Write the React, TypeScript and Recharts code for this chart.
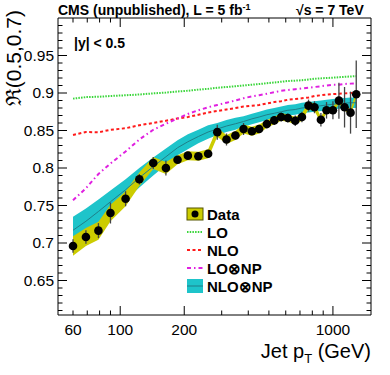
import React from 'react';
import { ComposedChart, Area, Line, Scatter, XAxis, YAxis, ErrorBar, Legend } from 'recharts';

const FONT = '"Liberation Sans", Arial, Helvetica, sans-serif';

// jet pT bin centres (GeV)
const ptBins = [60, 69, 79, 90, 106, 123, 143, 164, 186, 208, 233, 259, 286, 316, 348, 380, 416, 450, 489, 530, 571, 614, 665, 715, 768, 819, 878, 933, 1000, 1067, 1134, 1210, 1287];

// measured ratio R(0.5,0.7)
const dataR = [0.696, 0.708, 0.7165, 0.740, 0.759, 0.785, 0.8066, 0.800, 0.811, 0.8165, 0.8156, 0.819, 0.8478, 0.838, 0.8433, 0.852, 0.849, 0.852, 0.8586, 0.8635, 0.868, 0.8667, 0.863, 0.868, 0.8832, 0.881, 0.8644, 0.8769, 0.8769, 0.8898, 0.881, 0.8738, 0.8983];
const statErr = [0.009, 0.009, 0.010, 0.014, 0.010, 0.007, 0.008, 0.010, 0.005, 0.004, 0.004, 0.005, 0.010, 0.008, 0.005, 0.008, 0.005, 0.005, 0.006, 0.006, 0.006, 0.006, 0.007, 0.007, 0.008, 0.008, 0.009, 0.011, 0.012, 0.024, 0.027, 0.028, 0.045];
const sysErr = [0.013, 0.012, 0.012, 0.011, 0.010, 0.009, 0.008, 0.008, 0.006, 0.006, 0.006, 0.006, 0.006, 0.006, 0.006, 0.006, 0.006, 0.006, 0.005, 0.005, 0.005, 0.005, 0.005, 0.005, 0.005, 0.005, 0.004, 0.004, 0.004, 0.004, 0.004, 0.004, 0.004];

// theory curves
const loR = [0.8925, 0.8945, 0.895, 0.896, 0.897, 0.898, 0.8995, 0.9005, 0.902, 0.903, 0.9045, 0.9055, 0.907, 0.908, 0.909, 0.910, 0.911, 0.912, 0.913, 0.914, 0.915, 0.916, 0.9165, 0.917, 0.918, 0.919, 0.9195, 0.920, 0.9205, 0.921, 0.9215, 0.922, 0.9225];
const nloR = [0.844, 0.848, 0.8475, 0.851, 0.853, 0.857, 0.860, 0.863, 0.866, 0.868, 0.871, 0.874, 0.876, 0.878, 0.880, 0.882, 0.883, 0.884, 0.886, 0.888, 0.889, 0.891, 0.892, 0.893, 0.894, 0.896, 0.897, 0.898, 0.8985, 0.899, 0.8995, 0.900, 0.900];
const loNpR = [0.757, 0.773, 0.792, 0.806, 0.822, 0.838, 0.851, 0.859, 0.866, 0.872, 0.877, 0.881, 0.884, 0.887, 0.890, 0.893, 0.8955, 0.897, 0.899, 0.901, 0.903, 0.904, 0.905, 0.906, 0.907, 0.908, 0.909, 0.910, 0.911, 0.911, 0.912, 0.9125, 0.913];
const nloNpR = [0.717, 0.729, 0.742, 0.755, 0.771, 0.787, 0.802, 0.815, 0.827, 0.835, 0.842, 0.848, 0.852, 0.856, 0.859, 0.862, 0.8655, 0.868, 0.871, 0.873, 0.875, 0.877, 0.878, 0.880, 0.881, 0.882, 0.883, 0.884, 0.885, 0.886, 0.8865, 0.887, 0.887];
const nloNpErr = [0.018, 0.017, 0.016, 0.015, 0.014, 0.013, 0.012, 0.011, 0.010, 0.010, 0.009, 0.009, 0.008, 0.008, 0.008, 0.007, 0.007, 0.007, 0.007, 0.007, 0.007, 0.007, 0.007, 0.007, 0.007, 0.007, 0.007, 0.007, 0.007, 0.007, 0.007, 0.007, 0.007];

// axis ticks
const xTicks = [60, 70, 80, 90, 100, 200, 300, 400, 500, 600, 700, 800, 900, 1000];
const xTickLabels = ['60', '', '', '', '100', '200', '', '', '', '', '', '', '', '1000'];
const xLongTicks = [100, 200, 1000];
const yTicks = [0.61, 0.62, 0.63, 0.64, 0.65, 0.66, 0.67, 0.68, 0.69, 0.7, 0.71, 0.72, 0.73, 0.74, 0.75, 0.76, 0.77, 0.78, 0.79, 0.8, 0.81, 0.82, 0.83, 0.84, 0.85, 0.86, 0.87, 0.88, 0.89, 0.9, 0.91, 0.92, 0.93, 0.94, 0.95, 0.96, 0.97, 0.98, 0.99];
const yMajorTicks = [0.65, 0.7, 0.75, 0.8, 0.85, 0.9, 0.95];
const yMajorLabels = ['0.65', '0.7', '0.75', '0.8', '0.85', '0.9', '0.95'];

const rows = ptBins.map((pt, i) => ({
  pt,
  data: dataR[i],
  stat: statErr[i],
  sysBand: [dataR[i] - sysErr[i], dataR[i] + sysErr[i]],
  lo: loR[i],
  nlo: nloR[i],
  lonp: loNpR[i],
  nlonp: nloNpR[i],
  nlonpBand: [nloNpR[i] - nloNpErr[i], nloNpR[i] + nloNpErr[i]],
}));

const CYAN = '#1ec4ca';
const YELLOW = '#cccc00';

function BottomTick(props: any) {
  const { x, y, payload } = props;
  const i = xTicks.indexOf(payload.value);
  const len = xLongTicks.includes(payload.value) ? 9 : 4.5;
  return (
    <g>
      <line x1={x} y1={y} x2={x} y2={y - len} stroke="#000" />
      {xTickLabels[i] && (
        <text x={x} y={y + 20} textAnchor="middle" fontSize={15.5} fontFamily={FONT} fill="#000">
          {xTickLabels[i]}
        </text>
      )}
    </g>
  );
}

function TopTick(props: any) {
  const { x, y, payload } = props;
  const len = xLongTicks.includes(payload.value) ? 9 : 4.5;
  return <line x1={x} y1={y} x2={x} y2={y + len} stroke="#000" />;
}

function LeftTick(props: any) {
  const { x, y, payload } = props;
  const j = yMajorTicks.indexOf(payload.value);
  const len = j >= 0 ? 9 : 4.5;
  return (
    <g>
      <line x1={x} y1={y} x2={x + len} y2={y} stroke="#000" />
      {j >= 0 && (
        <text x={x - 4} y={y + 5} textAnchor="end" fontSize={15.5} fontFamily={FONT} fill="#000">
          {yMajorLabels[j]}
        </text>
      )}
    </g>
  );
}

function RightTick(props: any) {
  const { x, y, payload } = props;
  const len = yMajorTicks.includes(payload.value) ? 9 : 4.5;
  return <line x1={x} y1={y} x2={x - len} y2={y} stroke="#000" />;
}

function LegendBox() {
  const rowY = [11, 29, 47, 65, 83];
  const names = ['Data', 'LO', 'NLO', 'LO\u2297NP', 'NLO\u2297NP'];
  return (
    <svg width={130} height={95} style={{ display: 'block' }}>
      <rect x={7} y={rowY[0] - 6} width={16} height={12} fill={YELLOW} stroke="#555500" strokeWidth={1} />
      <circle cx={15} cy={rowY[0]} r={3.5} fill="#000" />
      <line x1={7} x2={23} y1={rowY[1]} y2={rowY[1]} stroke="#3ad63a" strokeWidth={2} strokeDasharray="1.5 1.2" />
      <line x1={7} x2={23} y1={rowY[2]} y2={rowY[2]} stroke="#ff1a1a" strokeWidth={2} strokeDasharray="3 2.5" />
      <line x1={7} x2={23} y1={rowY[3]} y2={rowY[3]} stroke="#e020e0" strokeWidth={2} strokeDasharray="4 3 1.5 3" />
      <rect x={7} y={rowY[4] - 7} width={16} height={14} fill={CYAN} />
      <line x1={7} x2={23} y1={rowY[4]} y2={rowY[4]} stroke="#1f7f88" strokeWidth={1} />
      {names.map((n, i) => (
        <text key={n} x={27} y={rowY[i] + 5.5} fontSize={15} fontWeight="bold" fontFamily={FONT} fill="#000">
          {n}
        </text>
      ))}
    </svg>
  );
}

export default function App() {
  return (
    <div style={{ position: 'absolute', left: 0, top: 0, width: 390, height: 375, background: '#fff' }}>
      <ComposedChart width={390} height={375} data={rows} margin={{ top: 17, right: 18, bottom: 59, left: 57 }}>
        <XAxis
          dataKey="pt"
          type="number"
          scale="log"
          domain={[51, 1510]}
          allowDataOverflow
          ticks={xTicks}
          interval={0}
          height={1}
          tickSize={0}
          tickMargin={0}
          tickLine={false}
          axisLine={{ stroke: '#000' }}
          tick={<BottomTick />}
        />
        <XAxis
          xAxisId="top"
          orientation="top"
          dataKey="pt"
          type="number"
          scale="log"
          domain={[51, 1510]}
          allowDataOverflow
          ticks={xTicks}
          interval={0}
          height={1}
          tickSize={0}
          tickMargin={0}
          tickLine={false}
          axisLine={{ stroke: '#000' }}
          tick={<TopTick />}
        />
        <YAxis
          type="number"
          domain={[0.604, 1.0]}
          allowDataOverflow
          ticks={yTicks}
          interval={0}
          width={1}
          tickSize={0}
          tickMargin={0}
          tickLine={false}
          axisLine={{ stroke: '#000' }}
          tick={<LeftTick />}
        />
        <YAxis
          yAxisId="right"
          orientation="right"
          type="number"
          domain={[0.604, 1.0]}
          allowDataOverflow
          ticks={yTicks}
          interval={0}
          width={1}
          tickSize={0}
          tickMargin={0}
          tickLine={false}
          axisLine={{ stroke: '#000' }}
          tick={<RightTick />}
        />
        <Area dataKey="nlonpBand" type="linear" stroke="none" fill={CYAN} fillOpacity={1} isAnimationActive={false} />
        <Line dataKey="nlonp" type="linear" stroke="#1f7f88" strokeWidth={1} dot={false} isAnimationActive={false} />
        <Area dataKey="sysBand" type="linear" stroke="none" fill={YELLOW} fillOpacity={1} isAnimationActive={false} />
        <Line dataKey="lo" type="linear" stroke="#3ad63a" strokeWidth={2} strokeDasharray="1.5 1.2" dot={false} isAnimationActive={false} />
        <Line dataKey="nlo" type="linear" stroke="#ff1a1a" strokeWidth={2} strokeDasharray="3 2.5" dot={false} isAnimationActive={false} />
        <Line dataKey="lonp" type="linear" stroke="#e020e0" strokeWidth={2} strokeDasharray="4 3 1.5 3" dot={false} isAnimationActive={false} />
        <Scatter
          dataKey="data"
          isAnimationActive={false}
          shape={(p: any) => <circle cx={p.cx} cy={p.cy} r={4.3} fill="#000" />}
        >
          <ErrorBar dataKey="stat" direction="y" width={0} stroke="#444" strokeWidth={1.3} />
        </Scatter>
        <Legend
          layout="horizontal"
          verticalAlign="middle"
          content={() => <LegendBox />}
          wrapperStyle={{ left: 180, top: 203, width: 130, height: 95 }}
        />
      </ComposedChart>
      <svg width={390} height={375} style={{ position: 'absolute', left: 0, top: 0, pointerEvents: 'none' }}>
        <text x={58} y={15} fontSize={14} fontWeight="bold" fontFamily={FONT} fill="#000">
          CMS (unpublished), L = 5 fb<tspan dy={-5} fontSize={9}>-1</tspan>
        </text>
        <text x={296} y={15} fontSize={14} fontWeight="bold" fontFamily={FONT} fill="#000">
          {'\u221As = 7 TeV'}
        </text>
        <text x={74} y={48} fontSize={14} fontWeight="bold" fontFamily={FONT} fill="#000">
          |y| &lt; 0.5
        </text>
        <text x={21} y={10} transform="rotate(-90 21 10)" textAnchor="end" fontSize={21} fontFamily={FONT} fill="#000">
          {'\u211C(0.5,0.7)'}
        </text>
        <text x={371} y={358} textAnchor="end" fontSize={20} fontFamily={FONT} fill="#000">
          Jet p<tspan dy={5} fontSize={13}>T</tspan><tspan dy={-5}> (GeV)</tspan>
        </text>
      </svg>
    </div>
  );
}
